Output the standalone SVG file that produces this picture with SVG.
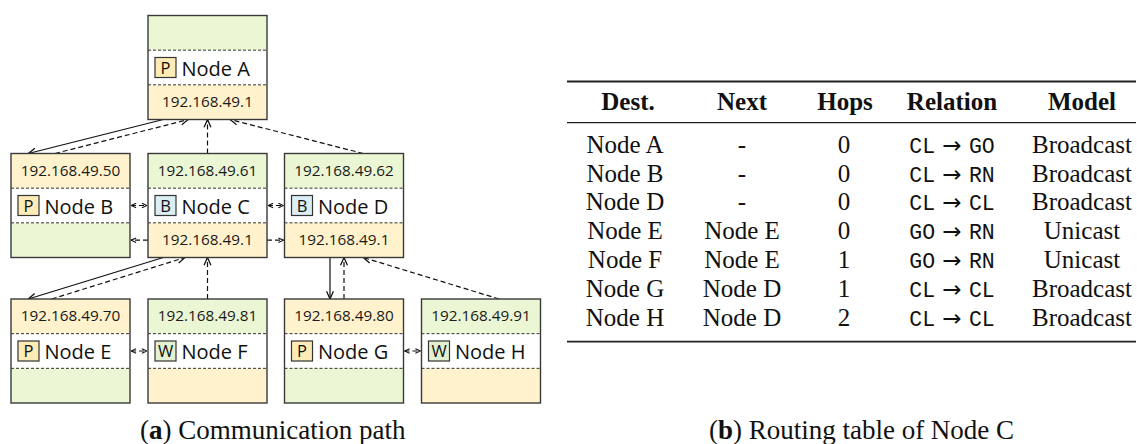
<svg xmlns="http://www.w3.org/2000/svg" width="1137" height="444" viewBox="0 0 1137 444">
<defs>
<style>
.g{fill:#EBF6D4}.y{fill:#FFF2CC}.w{fill:#FFFFFF}
.sep{stroke:#333;stroke-width:1;stroke-dasharray:3 2;fill:none}
.frame{fill:none;stroke:#3a3a3a;stroke-width:1.4}
.badge{stroke:#333;stroke-width:1.2}
.bp{fill:#FFEBB5}.bb{fill:#DAEEF3}.bw{fill:#E3F1D2}
.ip{font-family:"Open Sans","Noto Sans",sans-serif;font-size:15.3px;text-anchor:middle;fill:#1a1a1a}
.nm{font-family:"Open Sans","Noto Sans",sans-serif;font-size:20px;fill:#111}
.bl{font-family:"Open Sans","Noto Sans",sans-serif;font-size:16.5px;text-anchor:middle;fill:#111}
.c{fill:none;stroke:#111;stroke-width:1.2}
.d{stroke-dasharray:5 3}
.tb{font-family:"Liberation Serif","Times New Roman",serif;font-size:25px;text-anchor:middle;fill:#111}
.th{font-weight:bold}
.tt{font-family:"Liberation Mono","Courier New",monospace;font-size:21.5px}
.ar{font-family:"DejaVu Sans",sans-serif;font-size:23px}
.rule{stroke:#222;fill:none}
.cap{font-family:"Liberation Serif","Times New Roman",serif;font-size:27px;text-anchor:middle;fill:#111}
</style>
<marker id="ah" viewBox="0 0 10 10" refX="9.5" refY="5" markerWidth="9" markerHeight="9" markerUnits="userSpaceOnUse" orient="auto-start-reverse">
<path d="M1,1.2 L9.5,5 L1,8.8" fill="none" stroke="#111" stroke-width="1.4" stroke-dasharray="none"/>
</marker>
<marker id="as" viewBox="0 0 10 10" refX="9.5" refY="5" markerWidth="6" markerHeight="6" markerUnits="userSpaceOnUse" orient="auto-start-reverse">
<path d="M1,1.2 L9.5,5 L1,8.8" fill="none" stroke="#111" stroke-width="1.8" stroke-dasharray="none"/>
</marker>
</defs>
<rect width="1137" height="444" fill="#fff"/>

<g id="connectors">
<path class="c" d="M163.3,119.5 L28.3,153.5" marker-end="url(#ah)"/>
<path class="c d" d="M55,153.5 L188.3,119.5" marker-end="url(#ah)"/>
<path class="c d" d="M207.5,153.5 L207.5,119.5" marker-end="url(#ah)"/>
<path class="c d" d="M363.3,153.5 L230,119.5" marker-end="url(#ah)"/>
<path class="c d" d="M131,205.5 L147,205.5" marker-start="url(#as)" marker-end="url(#as)"/>
<path class="c d" d="M148,240.2 L131,240.2" marker-end="url(#as)"/>
<path class="c d" d="M268,205.5 L283.5,205.5" marker-start="url(#as)" marker-end="url(#as)"/>
<path class="c d" d="M267,240.2 L283.5,240.2" marker-end="url(#as)"/>
<path class="c" d="M163.3,257.5 L28.3,299" marker-end="url(#ah)"/>
<path class="c d" d="M51.7,299 L185,257.5" marker-end="url(#ah)"/>
<path class="c d" d="M207.5,299 L207.5,257.5" marker-end="url(#ah)"/>
<path class="c" d="M330,257.5 L330,299" marker-end="url(#ah)"/>
<path class="c d" d="M344,299 L344,257.5" marker-end="url(#ah)"/>
<path class="c d" d="M499,299 L363.3,257.5" marker-end="url(#ah)"/>
<path class="c d" d="M131,351 L147,351" marker-start="url(#as)" marker-end="url(#as)"/>
<path class="c d" d="M404.5,351 L420.5,351" marker-start="url(#as)" marker-end="url(#as)"/>
</g>

<g id="node-a">
<rect class="g" x="148" y="15.5" width="119" height="34.67"/>
<rect class="w" x="148" y="50.17" width="119" height="34.67"/>
<rect class="y" x="148" y="84.83" width="119" height="34.67"/>
<path class="sep" d="M148,50.17 H267 M148,84.83 H267"/>
<rect class="frame" x="148" y="15.5" width="119" height="104"/>
<rect class="badge bp" x="155" y="57.5" width="21" height="20"/>
<text class="bl" x="165.5" y="73.5">P</text>
<text class="nm" x="181.5" y="75.5">Node A</text>
<text class="ip" x="207.5" y="107.2">192.168.49.1</text>
</g>

<g id="node-b">
<rect class="y" x="11" y="153.5" width="119" height="34.67"/>
<rect class="w" x="11" y="188.17" width="119" height="34.67"/>
<rect class="g" x="11" y="222.83" width="119" height="34.67"/>
<path class="sep" d="M11,188.17 H130 M11,222.83 H130"/>
<rect class="frame" x="11" y="153.5" width="119" height="104"/>
<rect class="badge bp" x="18" y="195.5" width="21" height="20"/>
<text class="bl" x="28.5" y="211.5">P</text>
<text class="nm" x="44.5" y="213.5">Node B</text>
<text class="ip" x="70.5" y="175.8">192.168.49.50</text>
</g>

<g id="node-c">
<rect class="g" x="148" y="153.5" width="119" height="34.67"/>
<rect class="w" x="148" y="188.17" width="119" height="34.67"/>
<rect class="y" x="148" y="222.83" width="119" height="34.67"/>
<path class="sep" d="M148,188.17 H267 M148,222.83 H267"/>
<rect class="frame" x="148" y="153.5" width="119" height="104"/>
<rect class="badge bb" x="155" y="195.5" width="21" height="20"/>
<text class="bl" x="165.5" y="211.5">B</text>
<text class="nm" x="181.5" y="213.5">Node C</text>
<text class="ip" x="207.5" y="175.8">192.168.49.61</text>
<text class="ip" x="207.5" y="245.2">192.168.49.1</text>
</g>

<g id="node-d">
<rect class="g" x="284.5" y="153.5" width="119" height="34.67"/>
<rect class="w" x="284.5" y="188.17" width="119" height="34.67"/>
<rect class="y" x="284.5" y="222.83" width="119" height="34.67"/>
<path class="sep" d="M284.5,188.17 H403.5 M284.5,222.83 H403.5"/>
<rect class="frame" x="284.5" y="153.5" width="119" height="104"/>
<rect class="badge bb" x="291.5" y="195.5" width="21" height="20"/>
<text class="bl" x="302" y="211.5">B</text>
<text class="nm" x="318" y="213.5">Node D</text>
<text class="ip" x="344" y="175.8">192.168.49.62</text>
<text class="ip" x="344" y="245.2">192.168.49.1</text>
</g>

<g id="node-e">
<rect class="y" x="11" y="299" width="119" height="34.67"/>
<rect class="w" x="11" y="333.67" width="119" height="34.67"/>
<rect class="g" x="11" y="368.33" width="119" height="34.67"/>
<path class="sep" d="M11,333.67 H130 M11,368.33 H130"/>
<rect class="frame" x="11" y="299" width="119" height="104"/>
<rect class="badge bp" x="18" y="341" width="21" height="20"/>
<text class="bl" x="28.5" y="357">P</text>
<text class="nm" x="44.5" y="359">Node E</text>
<text class="ip" x="70.5" y="321.3">192.168.49.70</text>
</g>

<g id="node-f">
<rect class="g" x="148" y="299" width="119" height="34.67"/>
<rect class="w" x="148" y="333.67" width="119" height="34.67"/>
<rect class="y" x="148" y="368.33" width="119" height="34.67"/>
<path class="sep" d="M148,333.67 H267 M148,368.33 H267"/>
<rect class="frame" x="148" y="299" width="119" height="104"/>
<rect class="badge bw" x="155" y="341" width="21" height="20"/>
<text class="bl" x="165.5" y="357">W</text>
<text class="nm" x="181.5" y="359">Node F</text>
<text class="ip" x="207.5" y="321.3">192.168.49.81</text>
</g>

<g id="node-g">
<rect class="y" x="284.5" y="299" width="119" height="34.67"/>
<rect class="w" x="284.5" y="333.67" width="119" height="34.67"/>
<rect class="g" x="284.5" y="368.33" width="119" height="34.67"/>
<path class="sep" d="M284.5,333.67 H403.5 M284.5,368.33 H403.5"/>
<rect class="frame" x="284.5" y="299" width="119" height="104"/>
<rect class="badge bp" x="291.5" y="341" width="21" height="20"/>
<text class="bl" x="302" y="357">P</text>
<text class="nm" x="318" y="359">Node G</text>
<text class="ip" x="344" y="321.3">192.168.49.80</text>
</g>

<g id="node-h">
<rect class="g" x="421.5" y="299" width="119" height="34.67"/>
<rect class="w" x="421.5" y="333.67" width="119" height="34.67"/>
<rect class="y" x="421.5" y="368.33" width="119" height="34.67"/>
<path class="sep" d="M421.5,333.67 H540.5 M421.5,368.33 H540.5"/>
<rect class="frame" x="421.5" y="299" width="119" height="104"/>
<rect class="badge bw" x="428.5" y="341" width="21" height="20"/>
<text class="bl" x="439" y="357">W</text>
<text class="nm" x="455" y="359">Node H</text>
<text class="ip" x="481" y="321.3">192.168.49.91</text>
</g>

<text class="cap" x="272.7" y="439">(<tspan font-weight="bold">a</tspan>) Communication path</text>

<g id="routing-table">
<path class="rule" stroke-width="1.8" d="M567,81.5 H1136"/>
<path class="rule" stroke-width="1.2" d="M567,122.7 H1136"/>
<path class="rule" stroke-width="1.8" d="M567,341.7 H1136"/>
<g class="tb th">
<text x="628" y="109.5">Dest.</text>
<text x="742" y="109.5">Next</text>
<text x="845" y="109.5">Hops</text>
<text x="952" y="109.5">Relation</text>
<text x="1082" y="109.5">Model</text>
</g>
<g class="tb">
<text x="625" y="152.7">Node A</text><text x="742" y="152.7">-</text><text x="844" y="152.7">0</text><text x="952" y="152.7"><tspan class="tt">CL</tspan><tspan class="ar"> → </tspan><tspan class="tt">GO</tspan></text><text x="1082" y="152.7">Broadcast</text>
<text x="625" y="181.5">Node B</text><text x="742" y="181.5">-</text><text x="844" y="181.5">0</text><text x="952" y="181.5"><tspan class="tt">CL</tspan><tspan class="ar"> → </tspan><tspan class="tt">RN</tspan></text><text x="1082" y="181.5">Broadcast</text>
<text x="625" y="210.3">Node D</text><text x="742" y="210.3">-</text><text x="844" y="210.3">0</text><text x="952" y="210.3"><tspan class="tt">CL</tspan><tspan class="ar"> → </tspan><tspan class="tt">CL</tspan></text><text x="1082" y="210.3">Broadcast</text>
<text x="625" y="239.1">Node E</text><text x="742" y="239.1">Node E</text><text x="844" y="239.1">0</text><text x="952" y="239.1"><tspan class="tt">GO</tspan><tspan class="ar"> → </tspan><tspan class="tt">RN</tspan></text><text x="1082" y="239.1">Unicast</text>
<text x="625" y="267.9">Node F</text><text x="742" y="267.9">Node E</text><text x="844" y="267.9">1</text><text x="952" y="267.9"><tspan class="tt">GO</tspan><tspan class="ar"> → </tspan><tspan class="tt">RN</tspan></text><text x="1082" y="267.9">Unicast</text>
<text x="625" y="296.7">Node G</text><text x="742" y="296.7">Node D</text><text x="844" y="296.7">1</text><text x="952" y="296.7"><tspan class="tt">CL</tspan><tspan class="ar"> → </tspan><tspan class="tt">CL</tspan></text><text x="1082" y="296.7">Broadcast</text>
<text x="625" y="325.5">Node H</text><text x="742" y="325.5">Node D</text><text x="844" y="325.5">2</text><text x="952" y="325.5"><tspan class="tt">CL</tspan><tspan class="ar"> → </tspan><tspan class="tt">CL</tspan></text><text x="1082" y="325.5">Broadcast</text>
</g>
</g>

<text class="cap" x="861.5" y="439">(<tspan font-weight="bold">b</tspan>) Routing table of Node C</text>
</svg>
